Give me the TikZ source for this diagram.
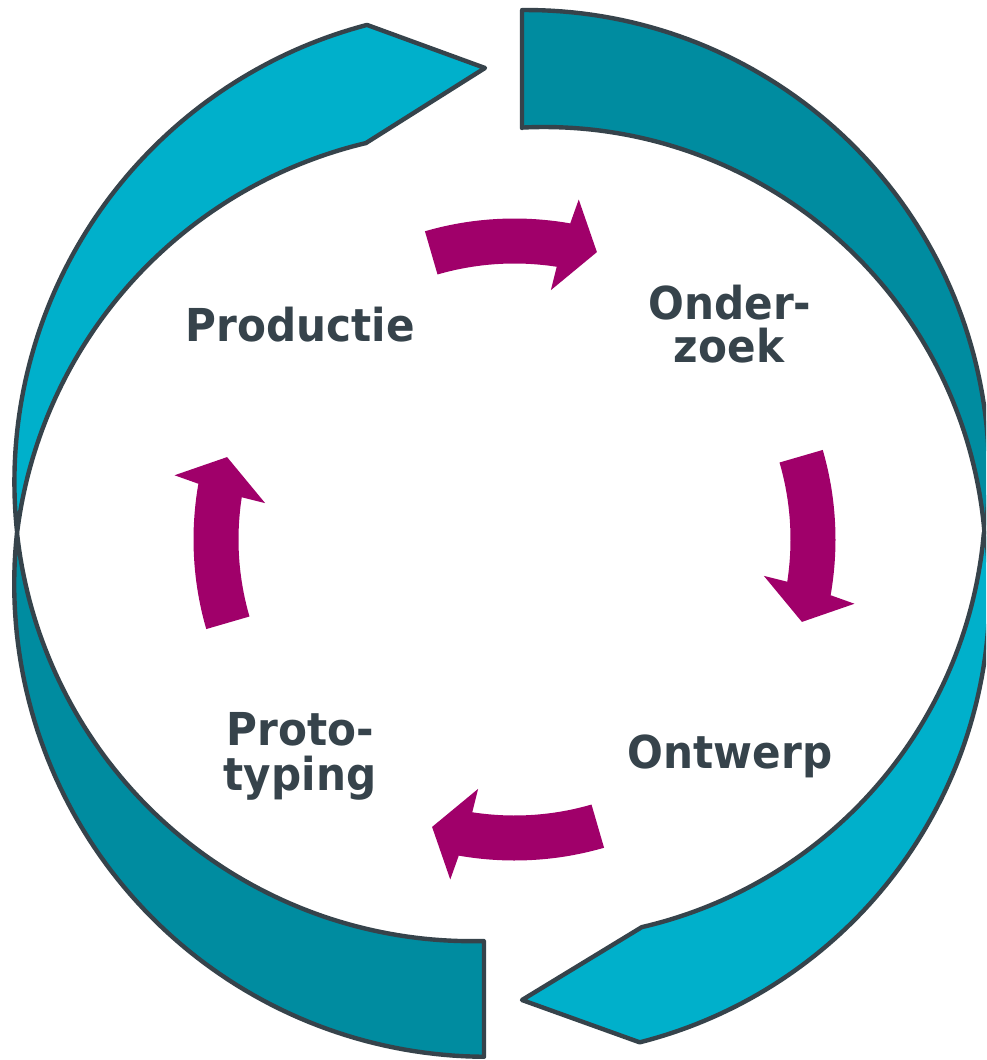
\documentclass[tikz,border=0pt]{standalone}
\usepackage{fontspec}
\newfontfamily\lblfont{DejaVu Sans}[FakeStretch=0.93]
\definecolor{clight}{HTML}{00B0CB}
\definecolor{cdark}{HTML}{008CA0}
\definecolor{cedge}{HTML}{36434B}
\definecolor{cpurple}{HTML}{A0006A}
\definecolor{ctext}{HTML}{36434B}
\tikzset{
  ring/.style={draw=cedge, line width=3.3pt, line join=round},
  lightpiece/.style={ring, fill=clight},
  darkpiece/.style={ring, fill=cdark},
  cyclearrow/.style={fill=cpurple},
  lbl/.style={text=ctext, font=\lblfont\bfseries\fontsize{34}{40}\selectfont, inner sep=0pt, anchor=base},
}
\begin{document}
\begin{tikzpicture}[x=0.75pt,y=-0.75pt]
\useasboundingbox (0,0) rectangle (986,1060);
\fill[white] (0,0) rectangle (986,1060);
\begin{scope}
\clip (0,0) rectangle (986,1060);
% left arrow, top (light)
\draw[lightpiece] plot[domain=173.81:255.29,samples=80] ({487+472.6*cos(\x)},{482+472.6*sin(\x)})
  -- (485,68) -- (366,143)
  -- plot[domain=256.63:187.02,samples=80] ({472+458.4*cos(\x)},{589+458.4*sin(\x)}) -- cycle;
% left arrow, bottom (dark)
\draw[darkpiece] plot[domain=186.19:90.36,samples=80] ({487+472.8*cos(\x)},{584+472.8*sin(\x)})
  -- (484,941)
  -- plot[domain=88.5:173.79,samples=80] ({472+457.7*cos(\x)},{483.5+457.7*sin(\x)}) -- cycle;
% right arrow, top (dark)
\draw[darkpiece] (522,128) -- (522,10)
  -- plot[domain=269.5:367.45,samples=80] ({526+463*cos(\x)},{473+463*sin(\x)})
  -- plot[domain=355.33:267.14,samples=80] ({544+442*cos(\x)},{569+442*sin(\x)}) -- cycle;
% right arrow, bottom (light)
\draw[lightpiece] plot[domain=352.55:435.8,samples=80] ({526+463.5*cos(\x)},{593+463.5*sin(\x)})
  -- (522,1000) -- (642,927)
  -- plot[domain=76.97:4.9,samples=80] ({542+443.5*cos(\x)},{495+443.5*sin(\x)}) -- cycle;
\end{scope}
% purple cycle arrows
\foreach \a in {0,90,180,270}{
  \fill[cyclearrow, shift={(514.5,539.5)}] plot[domain=106.2:80,samples=30] ({\a-\x}:321) -- ({\a-79.3}:346) -- ({\a-74}:299) -- ({\a-81.7}:252) -- ({\a-81.2}:276) -- plot[domain=81.2:106.2,samples=30] ({\a-\x}:276) -- cycle;
}
% labels
\node[lbl] (productie) at (300.5,341) {Productie};
\node[lbl] (onderA) at (730,319) {Onder-};
\node[lbl] (onderB) at (729,362) {zoek};
\node[lbl] (ontwerp) at (730,768) {Ontwerp};
\node[lbl] (protoA) at (300,745) {Proto-};
\node[lbl] (protoB) at (300,790) {typing};
\end{tikzpicture}
\end{document}
